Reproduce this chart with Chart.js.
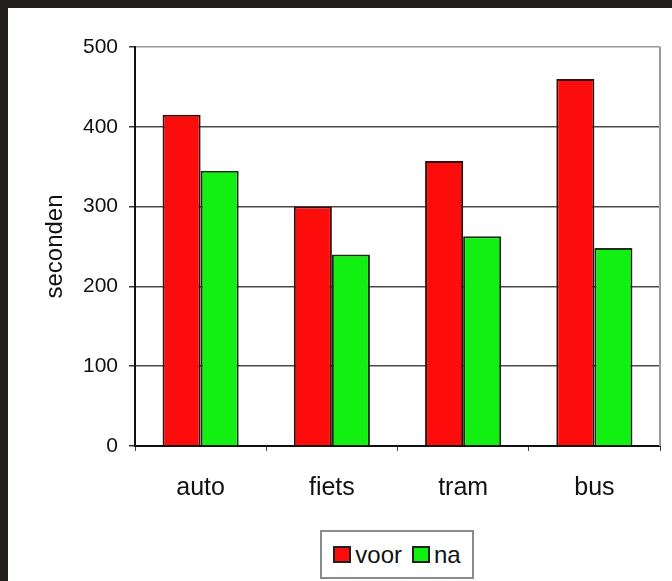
<!DOCTYPE html>
<html>
<head>
<meta charset="utf-8">
<script src="https://cdn.jsdelivr.net/npm/chart.js@4/dist/chart.umd.min.js"></script>
<style>
    html, body { margin: 0; padding: 0; }
    body { width: 672px; height: 581px; background: #231f1c; position: relative; overflow: hidden; }
    #panel { position: absolute; left: 8px; top: 8px; width: 664px; height: 573px; background: #fff; }
    #chart { position: absolute; left: 0; top: 0; }
    #legend {
        position: absolute; left: 312px; top: 522px; width: 154px; height: 49px;
        border: 2px solid #8a8a8a; box-sizing: border-box; background: #fff;
        display: flex; align-items: center; justify-content: center;
        font-family: 'Liberation Sans', Arial, sans-serif; font-size: 24px; color: #111;
    }
    .lg-item { display: flex; align-items: center; margin: 0 5px; }
    .lg-box { width: 14px; height: 13px; border: 2px solid #222; margin-right: 4px; }
</style>
</head>
<body>
<div id="panel">
    <canvas id="chart" width="664" height="573"></canvas>
    <div id="legend"></div>
</div>
<script>
    'use strict';

    const categories = ['auto', 'fiets', 'tram', 'bus'];
    const voorValues = [415, 300, 357, 460];
    const naValues = [345, 240, 263, 248];
    const seriesLabels = ['voor', 'na'];
    const yTicks = [0, 100, 200, 300, 400, 500];
    const yTitle = 'seconden';

    const FONT = "'Liberation Sans', Arial, sans-serif";

    // right border of the plot area (the frame line Excel draws)
    const frameRight = {
        id: 'frameRight',
        afterDatasetsDraw: function (chart) {
            const a = chart.chartArea;
            const ctx = chart.ctx;
            ctx.save();
            ctx.strokeStyle = '#9a9a9a';
            ctx.lineWidth = 2;
            ctx.beginPath();
            ctx.moveTo(a.right, a.top);
            ctx.lineTo(a.right, a.bottom);
            ctx.stroke();
            ctx.restore();
        },
    };

    const chart = new Chart(document.getElementById('chart'), {
        type: 'bar',
        data: {
            labels: categories,
            datasets: [{
                label: seriesLabels[0],
                data: voorValues,
                backgroundColor: '#fd0c0c',
                borderColor: '#3a0a0a',
                borderWidth: 2,
            }, {
                label: seriesLabels[1],
                data: naValues,
                backgroundColor: '#12f012',
                borderColor: '#163016',
                borderWidth: 2,
            }],
        },
        options: {
            responsive: false,
            animation: false,
            events: [],
            layout: { padding: { left: 33, top: 39, right: 12, bottom: 0 } },
            datasets: { bar: { categoryPercentage: 0.58, barPercentage: 1 } },
            plugins: { legend: { display: false }, tooltip: { enabled: false } },
            scales: {
                x: {
                    afterFit: function (scale) { scale.height = 135; },
                    grid: { drawOnChartArea: false, tickLength: 5, tickColor: '#444', lineWidth: 1 },
                    border: { color: '#111', width: 2 },
                    ticks: { padding: 22, color: '#111', font: { family: FONT, size: 25 } },
                },
                y: {
                    min: 0,
                    max: 500,
                    afterFit: function (scale) { scale.width = 94; },
                    afterBuildTicks: function (scale) {
                        scale.ticks = yTicks.map(function (v) { return { value: v }; });
                    },
                    grid: {
                        color: function (c) { return c.tick && c.tick.value === 500 ? '#9a9a9a' : '#4a4a4a'; },
                        lineWidth: 1.5,
                        tickLength: 6,
                        tickColor: '#333',
                    },
                    border: { color: '#111', width: 2 },
                    ticks: { padding: 11, color: '#111', font: { family: FONT, size: 21 } },
                    title: {
                        display: true,
                        text: yTitle,
                        color: '#111',
                        padding: 0,
                        font: { family: FONT, size: 24 },
                    },
                },
            },
        },
        plugins: [frameRight],
    });

    // legend box, built from the chart's own datasets
    document.getElementById('legend').innerHTML = chart.data.datasets.map(function (ds) {
        return '<span class="lg-item"><span class="lg-box" style="background:' + ds.backgroundColor + '"></span>' + ds.label + '</span>';
    }).join('');
</script>
</body>
</html>
